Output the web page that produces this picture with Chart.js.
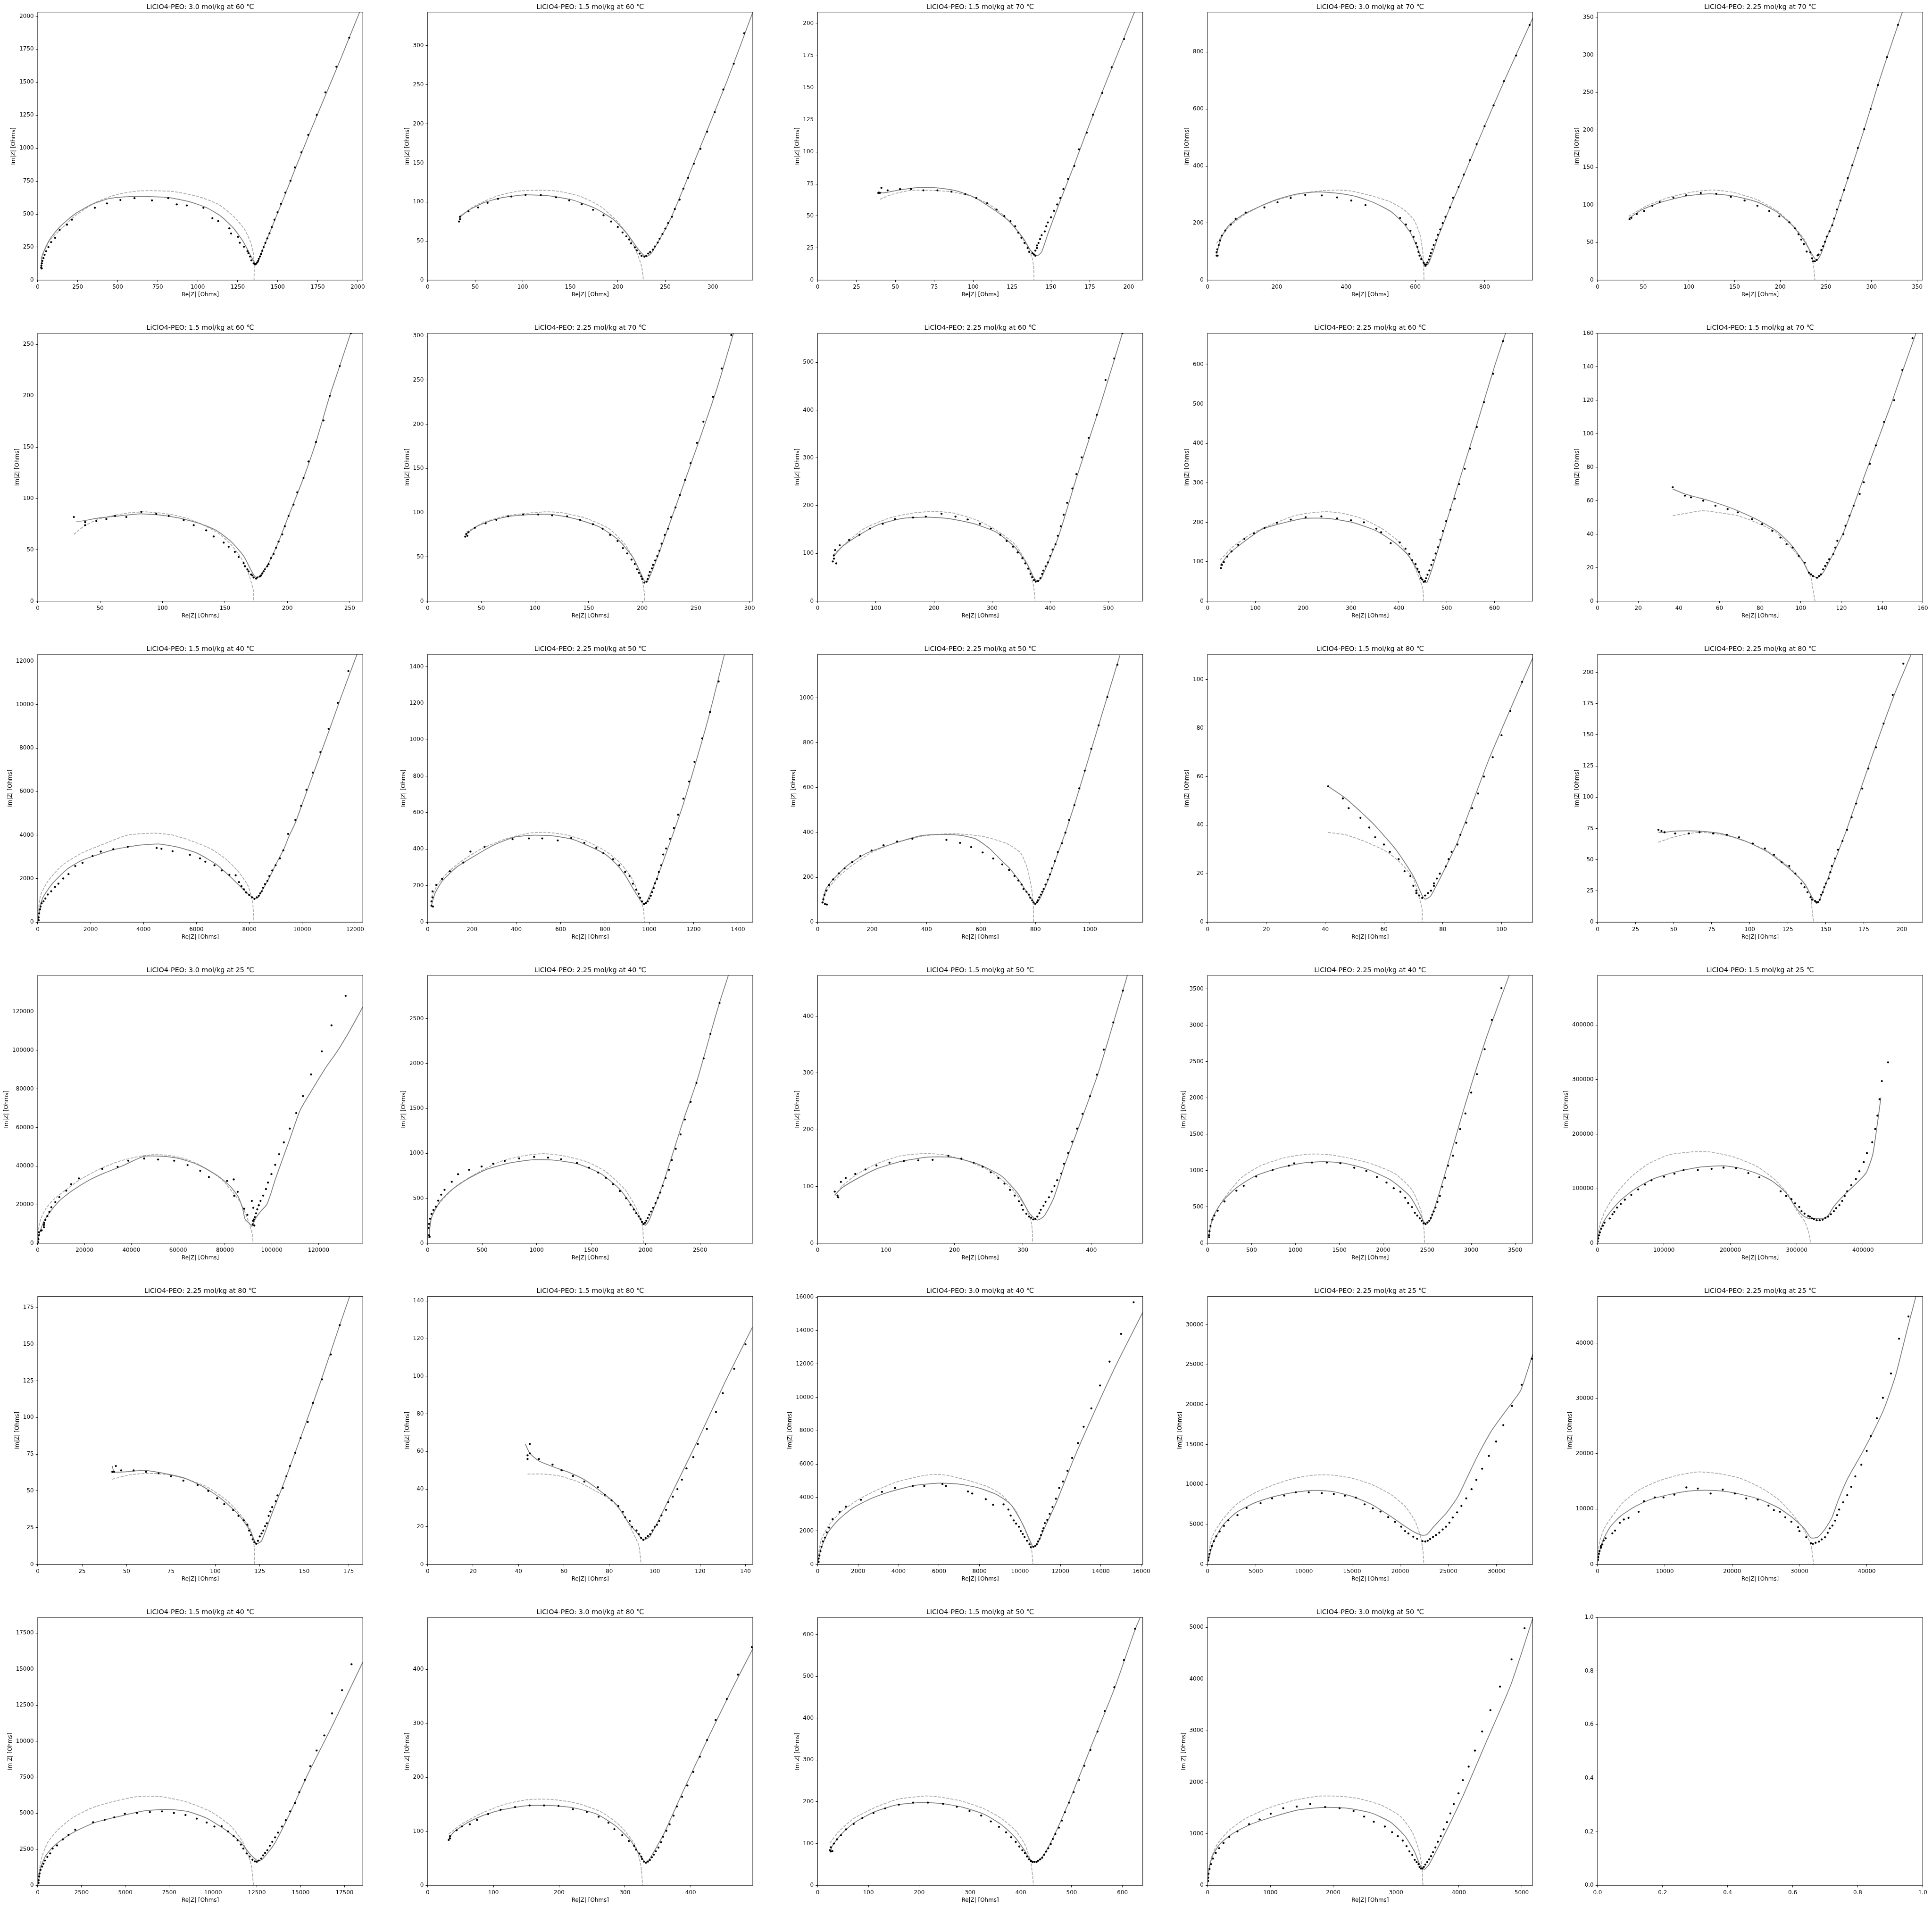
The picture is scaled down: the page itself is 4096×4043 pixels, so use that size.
<!DOCTYPE html>
<html><head><meta charset="utf-8">
<script src="https://cdn.jsdelivr.net/npm/chart.js@4.4.0/dist/chart.umd.min.js"></script>
<style>
html,body{margin:0;padding:0;background:#fff;width:4096px;height:4043px;overflow:hidden;position:relative}
canvas{position:absolute}
</style>
</head><body>
<script>
const TITLES = [
"LiClO4-PEO: 3.0 mol/kg at 60 \u2103","LiClO4-PEO: 1.5 mol/kg at 60 \u2103","LiClO4-PEO: 1.5 mol/kg at 70 \u2103","LiClO4-PEO: 3.0 mol/kg at 70 \u2103","LiClO4-PEO: 2.25 mol/kg at 70 \u2103",
"LiClO4-PEO: 1.5 mol/kg at 60 \u2103","LiClO4-PEO: 2.25 mol/kg at 70 \u2103","LiClO4-PEO: 2.25 mol/kg at 60 \u2103","LiClO4-PEO: 2.25 mol/kg at 60 \u2103","LiClO4-PEO: 1.5 mol/kg at 70 \u2103",
"LiClO4-PEO: 1.5 mol/kg at 40 \u2103","LiClO4-PEO: 2.25 mol/kg at 50 \u2103","LiClO4-PEO: 2.25 mol/kg at 50 \u2103","LiClO4-PEO: 1.5 mol/kg at 80 \u2103","LiClO4-PEO: 2.25 mol/kg at 80 \u2103",
"LiClO4-PEO: 3.0 mol/kg at 25 \u2103","LiClO4-PEO: 2.25 mol/kg at 40 \u2103","LiClO4-PEO: 1.5 mol/kg at 50 \u2103","LiClO4-PEO: 2.25 mol/kg at 40 \u2103","LiClO4-PEO: 1.5 mol/kg at 25 \u2103",
"LiClO4-PEO: 2.25 mol/kg at 80 \u2103","LiClO4-PEO: 1.5 mol/kg at 80 \u2103","LiClO4-PEO: 3.0 mol/kg at 40 \u2103","LiClO4-PEO: 2.25 mol/kg at 25 \u2103","LiClO4-PEO: 2.25 mol/kg at 25 \u2103",
"LiClO4-PEO: 1.5 mol/kg at 40 \u2103","LiClO4-PEO: 3.0 mol/kg at 80 \u2103","LiClO4-PEO: 1.5 mol/kg at 50 \u2103","LiClO4-PEO: 3.0 mol/kg at 50 \u2103",""];
const X_LABEL = "Re|Z| [Ohms]";
const Y_LABEL = "Im|Z| [Ohms]";
const X_MAX = [2032,342,209,939,356,260.5,303,559,680,160,12291,1467,1194,110.6,213.7,138900,2984,475,3700,489800,183,143.2,16070,33750,48312,18544,494.5,640,5176,1];
const Y_MAX = [2031,343,209,940,357,261,303,561,680,160,12313,1468,1195,110.4,214.5,138900,2983,472,3687,491000,182.6,142.5,16048,33550,48440,18585,496,641,5194,1];
const STEP = [250,50,25,200,50,50,50,100,100,20,2000,200,200,20,25,20000,500,100,500,100000,25,20,2000,5000,10000,2500,100,100,1000,0.2];

const P01_DATA=[[1947,1837],[1867,1617],[1798,1423],[1744,1252],[1691,1101],[1648,969],[1607,854],[1580,753],[1548,663],[1521,578],[1499,514],[1480,458],[1463,402],[1449,355],[1435,316],[1423,282],[1412,250],[1404,222],[1396,198],[1389,179],[1382,161],[1378,146],[1372,134],[1365,124],[1359,119],[1350,127],[1336,149],[1327,179],[1317,204],[1311,219],[1289,253],[1263,283],[1252,328],[1209,353],[1198,392],[1128,447],[1092,469],[1036,548],[932,566],[869,574],[816,621],[714,604],[605,621],[517,607],[433,581],[357,548],[214,458],[183,420],[137,380],[109,320],[84,288],[67,250],[53,219],[43,192],[36,167],[29,146],[26,127],[23,109],[22,94],[25,88]];
const P01_FIT=[[22,92],[28,186],[74,306],[137,402],[230,499],[338,574],[447,618],[571,633],[695,633],[819,626],[943,596],[1052,551],[1145,484],[1223,395],[1285,291],[1331,186],[1355,134],[1362,124],[1372,132],[1400,215],[1450,360],[1500,510],[1550,660],[1600,815],[1650,965],[1700,1115],[1800,1405],[1900,1695],[1947,1837],[2012,2031]];
const P01_CIRC=[[20,164],[74,298],[152,395],[230,484],[362,589],[493,648],[618,675],[711,678],[850,671],[1005,633],[1130,574],[1223,484],[1290,390],[1330,290],[1348,200],[1353,120],[1353,60],[1352,0]];

const P02_DATA=[[333,316],[322,277],[311,244],[302,215],[294,190],[287,168],[280,149],[274,131],[269,117],[265,103],[260,91],[257,81],[253,73],[250,66],[247,59],[244,53],[242,48],[239,43],[237,39],[234,36],[232,34],[230,31],[228,30],[225,31],[223,34],[220,38],[218,42],[214,47],[212,52],[209,56],[205,61],[200,68],[193,75],[185,83],[174,90],[162,97],[149,102],[135,106],[119,109],[103,109],[88,107],[74,104],[63,99],[53,93],[43,88],[34,81],[34,78],[33,75]];
const P02_FIT=[[33,80],[44,90],[59,99],[76,105],[101,109],[126,108],[151,103],[176,92],[196,77],[210,59],[220,42],[227,32],[230,30],[235,34],[255,77],[285,165],[315,255],[342,343]];
const P02_CIRC=[[34,82],[51,96],[74,108],[96,114],[118,115],[136,114],[161,107],[181,95],[198,77],[210,59],[219,38],[225,18],[227,0]];

const P03_DATA=[[197,188],[189,166],[183,146],[177,129],[173,115],[168,102],[165,89],[161,79],[158,71],[156,64],[154,59],[152,54],[150,49],[148,45],[147,42],[146,38],[144,35],[143,32],[142,29],[141,27],[141,25],[140,23],[139,20],[140,19],[138,21],[136,22],[135,25],[133,29],[131,33],[129,37],[127,42],[124,46],[120,50],[115,55],[109,60],[102,64],[95,67],[86,69],[77,70],[68,70],[60,71],[53,71],[45,70],[41,72],[40,68],[39,68]];
const P03_FIT=[[39,69],[42,68],[51,70],[63,72],[76,72],[88,70],[100,65],[112,56],[123,46],[132,33],[137,23],[141,19],[144,22],[148,36],[156,62],[165,90],[173,116],[183,147],[197,189],[206,216]];
const P03_CIRC=[[40,63],[48,67],[60,70],[73,70],[85,69],[97,66],[109,60],[120,50],[128,39],[134,28],[138,17],[139,8],[139,0]];

const P04_DATA=[[930,895],[891,788],[856,698],[826,613],[800,540],[777,477],[758,421],[740,370],[725,327],[709,289],[700,255],[687,222],[679,200],[672,178],[665,159],[660,140],[653,123],[649,108],[645,95],[642,84],[639,72],[635,62],[632,55],[629,50],[628,55],[624,61],[617,74],[612,86],[609,99],[606,116],[602,130],[595,152],[586,173],[573,195],[556,218],[456,263],[415,279],[374,290],[330,297],[282,299],[240,288],[202,273],[164,255],[110,237],[81,215],[67,195],[51,174],[41,156],[36,139],[32,123],[28,108],[26,98],[26,86],[29,86]];
const P04_FIT=[[26,91],[40,150],[60,190],[100,228],[150,258],[200,283],[250,300],[300,308],[330,309],[380,304],[430,293],[480,272],[530,240],[565,200],[585,168],[600,130],[612,95],[622,68],[630,53],[637,56],[650,95],[665,150],[680,195],[700,255],[725,325],[760,425],[800,540],[850,680],[900,815],[945,935]];
const P04_CIRC=[[26,129],[59,183],[101,225],[156,261],[211,285],[280,306],[335,314],[376,316],[417,312],[472,296],[527,275],[568,246],[596,211],[613,161],[621,105],[624,48],[625,0]];

const P05_DATA=[[329,340],[317,297],[307,260],[299,228],[292,201],[285,176],[279,153],[274,136],[270,120],[266,106],[262,94],[259,82],[257,73],[254,65],[251,58],[249,51],[247,45],[245,40],[242,34],[241,33],[240,27],[238,25],[236,25],[235,29],[233,37],[229,38],[226,48],[223,54],[220,61],[216,69],[210,77],[199,85],[188,92],[175,99],[161,106],[146,111],[130,115],[113,116],[97,113],[83,110],[68,104],[60,99],[51,92],[43,88],[37,83],[35,81]];
const P05_FIT=[[34,82],[49,94],[70,104],[97,112],[123,115],[149,112],[175,104],[196,91],[214,72],[227,51],[235,34],[240,26],[245,36],[251,57],[258,77],[266,106],[279,153],[292,201],[307,260],[317,297],[329,340],[334,358]];
const P05_CIRC=[[34,85],[54,99],[80,111],[107,118],[127,120],[148,117],[175,107],[198,91],[216,70],[228,51],[235,29],[237,13],[238,0]];

const P06_DATA=[[251,261],[242,229],[234,200],[229,176],[223,155],[217,136],[213,120],[208,106],[205,94],[201,83],[198,73],[196,65],[193,58],[191,52],[189,46],[187,42],[185,36],[184,34],[182,31],[181,29],[180,27],[179,25],[178,24],[176,23],[175,22],[173,23],[172,25],[171,26],[169,29],[168,31],[166,34],[165,37],[161,43],[158,48],[153,53],[149,57],[141,63],[135,69],[125,74],[117,79],[105,83],[95,85],[83,87],[71,82],[62,83],[55,80],[47,78],[38,77],[38,74],[29,82]];
const P06_FIT=[[31,78],[35,78],[49,81],[65,83],[81,85],[97,84],[113,81],[129,76],[143,69],[155,58],[165,44],[171,30],[174,24],[176,23],[179,26],[185,37],[193,58],[201,83],[213,120],[223,155],[234,200],[242,229],[251,262],[254,272]];
const P06_CIRC=[[29,65],[37,73],[49,80],[63,84],[73,86],[85,87],[97,86],[109,84],[121,80],[133,74],[145,66],[155,55],[163,42],[168,30],[171,19],[173,9],[173,0]];

const P07_DATA=[[283,301],[274,263],[266,231],[257,203],[251,179],[245,156],[240,137],[235,120],[231,106],[227,95],[224,82],[221,75],[218,65],[216,57],[214,51],[212,46],[210,41],[209,37],[207,33],[206,29],[205,25],[204,22],[202,21],[200,25],[199,28],[197,32],[195,36],[193,42],[190,47],[186,54],[182,60],[177,68],[170,75],[163,82],[154,87],[142,92],[130,96],[116,97],[103,98],[89,98],[75,96],[64,92],[54,88],[44,83],[38,78],[36,76],[37,74],[35,73]];
const P07_FIT=[[35,75],[45,84],[59,91],[76,96],[98,98],[116,98],[138,93],[160,84],[178,69],[191,50],[197,36],[202,23],[205,23],[213,46],[230,103],[252,178],[270,242],[285,303]];
const P07_CIRC=[[36,78],[54,90],[76,97],[98,100],[111,101],[125,100],[147,94],[169,82],[184,64],[195,41],[200,23],[202,9],[202,0]];

const P08_DATA=[[524,561],[510,508],[495,463],[480,390],[466,342],[454,301],[445,266],[438,236],[429,206],[423,181],[418,157],[413,137],[409,119],[404,108],[400,95],[396,81],[392,73],[388,64],[386,57],[383,48],[379,42],[375,41],[372,44],[369,50],[366,57],[362,68],[357,79],[352,90],[344,102],[336,114],[325,126],[314,139],[298,152],[279,162],[258,171],[237,177],[213,183],[186,177],[164,175],[133,172],[112,162],[90,152],[72,139],[54,128],[38,117],[30,107],[28,96],[28,89],[26,83],[32,79]];
const P08_FIT=[[27,93],[43,115],[72,139],[104,160],[145,173],[186,176],[225,173],[266,163],[308,144],[340,112],[361,76],[371,51],[378,41],[385,49],[414,135],[446,262],[487,414],[524,561],[535,600]];
const P08_CIRC=[[27,97],[47,120],[80,152],[121,173],[161,184],[202,188],[235,184],[275,169],[308,148],[340,118],[361,76],[371,34],[374,0]];

const P09_DATA=[[618,660],[597,577],[578,505],[563,442],[549,387],[538,336],[526,297],[517,260],[508,232],[499,203],[492,178],[487,156],[482,137],[477,121],[472,104],[468,92],[464,78],[460,67],[457,58],[455,51],[452,49],[449,55],[446,59],[442,74],[439,82],[435,94],[428,104],[422,120],[414,133],[402,149],[383,147],[363,175],[353,184],[327,200],[300,205],[271,210],[238,215],[205,213],[174,207],[145,199],[119,186],[97,172],[77,158],[64,143],[50,126],[41,113],[34,99],[30,92],[28,84]];
const P09_FIT=[[26,90],[43,118],[73,148],[113,182],[153,197],[202,210],[252,210],[302,200],[352,179],[392,148],[422,113],[442,72],[452,49],[459,48],[472,92],[511,246],[561,440],[601,599],[626,690]];
const P09_CIRC=[[26,104],[53,138],[93,172],[133,194],[182,217],[222,225],[252,227],[282,223],[322,210],[362,186],[397,154],[427,102],[442,61],[450,31],[452,0]];

const P10_DATA=[[155,157],[150,138],[146,120],[141,107],[137,93],[134,82],[131,71],[129,64],[126,57],[124,51],[122,45],[121,40],[118,36],[117,32],[116,28],[114,25],[113,23],[112,21],[111,19],[110,16],[109,15],[108,14],[106,15],[105,16],[104,17],[102,23],[99,27],[96,32],[93,34],[90,38],[86,42],[81,46],[76,49],[69,53],[64,55],[58,57],[52,60],[46,62],[43,63],[37,68]];
const P10_FIT=[[37,67],[43,64],[55,60],[67,55],[78,49],[88,42],[95,34],[101,24],[104,17],[108,14],[111,17],[121,41],[132,77],[144,116],[150,137],[157,161],[159,168]];
const P10_CIRC=[[37,51],[46,53],[52,54],[59,53],[69,51],[78,47],[88,41],[96,31],[102,22],[105,14],[106,7],[107,0]];

const P11_DATA=[[11745,11539],[11344,10083],[10998,8885],[10688,7816],[10397,6876],[10160,6083],[9960,5346],[9741,4700],[9468,4055],[9286,3300],[9159,2931],[8995,2618],[8868,2378],[8758,2120],[8685,1899],[8594,1751],[8521,1585],[8467,1419],[8412,1327],[8358,1217],[8285,1143],[8194,1069],[8103,1143],[7994,1253],[7884,1364],[7793,1512],[7702,1659],[7611,1843],[7484,2157],[7247,2175],[6956,2378],[6683,2618],[6337,2783],[6136,2931],[5754,3097],[5098,3263],[4680,3373],[4497,3410],[3405,3465],[2859,3355],[2385,3244],[2076,3041],[1694,2728],[1420,2581],[1165,2212],[965,2009],[783,1770],[656,1622],[510,1419],[382,1272],[291,1088],[219,959],[146,866],[109,719],[91,590],[55,406],[36,221],[36,92]];
const P11_FIT=[[18,37],[73,590],[200,1143],[565,1788],[1110,2433],[1657,2839],[2203,3078],[2932,3355],[3842,3539],[4570,3595],[5299,3447],[6027,3171],[6756,2654],[7302,2065],[7848,1419],[8050,1200],[8212,1088],[8330,1130],[8450,1380],[8600,1700],[8800,2150],[9000,2650],[9300,3350],[9500,3950],[9751,4600],[9960,5300],[10397,6750],[11000,8750],[11500,10450],[12073,12313]];
const P11_CIRC=[[18,498],[109,1235],[382,1880],[929,2617],[1657,3171],[2385,3539],[3387,4000],[4388,4092],[5116,4000],[5845,3723],[6573,3355],[7120,2894],[7575,2341],[7939,1696],[8121,959],[8176,0]];

const P12_DATA=[[1313,1319],[1274,1152],[1239,1007],[1204,879],[1180,771],[1154,677],[1130,589],[1111,516],[1093,457],[1076,404],[1063,371],[1054,312],[1043,275],[1035,237],[1026,213],[1020,187],[1013,165],[1007,145],[1000,130],[993,114],[985,105],[976,99],[967,114],[959,134],[952,156],[941,178],[926,211],[911,253],[891,275],[865,312],[837,345],[793,378],[761,407],[707,435],[648,462],[587,448],[517,459],[457,459],[383,455],[257,413],[193,387],[161,327],[100,279],[65,237],[39,204],[22,169],[22,136],[17,114],[17,90],[24,86]];
const P12_FIT=[[17,92],[33,158],[65,224],[130,301],[217,367],[304,426],[391,466],[478,477],[565,473],[652,455],[739,411],[804,370],[850,320],[890,260],[924,190],[957,125],[974,101],[989,114],[1043,268],[1152,642],[1261,1092],[1339,1466]];
const P12_CIRC=[[17,136],[43,202],[87,268],[152,334],[239,400],[348,455],[457,488],[543,492],[630,477],[717,444],[804,389],[870,323],[924,235],[957,136],[974,70],[978,0]];

const P13_DATA=[[1101,1148],[1064,1004],[1032,878],[1005,773],[981,676],[961,597],[943,522],[924,456],[910,399],[898,352],[882,313],[871,272],[860,240],[853,213],[845,190],[837,168],[830,148],[825,136],[820,123],[814,111],[809,98],[806,89],[799,82],[793,88],[788,97],[781,109],[776,123],[767,136],[756,148],[749,168],[737,186],[723,206],[703,233],[678,258],[645,284],[606,311],[564,335],[523,354],[473,367],[348,372],[292,360],[242,343],[198,320],[157,295],[127,268],[99,240],[78,218],[57,191],[42,166],[32,141],[25,122],[21,102],[18,88],[27,81],[34,79]];
const P13_FIT=[[18,84],[30,147],[57,191],[110,254],[180,308],[269,347],[376,385],[450,392],[520,388],[580,372],[630,330],[678,272],[703,243],[723,213],[745,178],[765,140],[785,105],[799,82],[810,92],[830,140],[855,215],[880,300],[910,400],[950,550],[1000,750],[1050,950],[1110,1190]];
const P13_CIRC=[[18,102],[39,150],[74,200],[127,254],[198,311],[286,354],[392,385],[498,395],[604,383],[693,352],[746,308],[772,233],[786,147],[792,75],[793,0]];

const P14_DATA=[[107,99],[103,87],[100,77],[97,68],[94,60],[92,53],[90,47],[88,41],[86,36],[85,32],[83,29],[82,26],[81,23],[79,20],[78,18],[77,16],[77,15],[76,13],[75,12],[74,11],[73,10],[72,11],[71,12],[71,13],[70,15],[69,19],[67,21],[65,26],[62,29],[60,32],[57,35],[55,39],[52,43],[48,47],[46,51],[41,56]];
const P14_FIT=[[41,56],[47,51],[56,41],[64,30],[70,19],[73,11],[74,9.5],[76,11],[85,33],[96,68],[111,110]];
const P14_CIRC=[[41,37],[47,36],[54,33],[61,29],[66,24],[70,18],[72,10],[73,5],[73,0]];

const P15_DATA=[[201,207],[194,182],[188,159],[183,140],[178,123],[174,107],[170,95],[167,84],[164,74],[161,65],[158,58],[156,51],[154,45],[153,40],[152,35],[150,31],[149,28],[148,24],[147,22],[146,18],[145,16],[144,16],[143,17],[141,18],[140,20],[138,24],[136,28],[134,31],[130,39],[126,45],[121,48],[116,54],[110,59],[102,63],[93,68],[85,70],[76,71],[67,72],[60,71],[51,71],[44,72],[42,73],[40,74]];
const P15_FIT=[[40,72],[44,72],[51,73],[66,73],[81,71],[97,65],[112,56],[125,44],[136,31],[141,20],[144,15],[146,18],[152,37],[164,75],[179,128],[195,182],[206,214]];
const P15_CIRC=[[40,64],[47,67],[56,70],[67,72],[77,71],[89,68],[101,63],[113,56],[125,45],[134,34],[140,22],[141,10],[142,0]];

const P16_DATA=[[131560,128270],[125520,112950],[121380,99470],[116820,87520],[113330,76290],[110460,67500],[107710,59440],[105160,52290],[103150,46160],[101450,40650],[99860,35850],[98380,31450],[97530,28080],[96360,24710],[95200,21960],[94460,19710],[93820,17570],[93290,15520],[92760,13580],[92340,12360],[92020,11640],[91810,9800],[92550,9190],[92130,18380],[91490,21960],[89580,14710],[88200,17870],[85450,26650],[83960,24610],[83750,33090],[80890,32270],[73150,34310],[69440,37580],[64030,40540],[58310,42790],[51420,43400],[45480,43910],[38700,42790],[34140,39620],[27570,38600],[17600,33600],[14310,30640],[12190,27270],[9220,23900],[7530,21340],[5830,18690],[4980,16240],[4130,14090],[3290,12150],[2760,10520],[2650,9500],[2650,8270],[1700,6740],[1380,6540],[530,5720],[530,4190],[320,2140],[210,610]];
const P16_FIT=[[100,200],[640,4700],[2440,10830],[5090,15930],[9330,22060],[14630,27170],[22050,32780],[28410,36350],[35830,39930],[45370,45040],[53850,45040],[60210,44020],[67630,41160],[72930,37890],[78240,33800],[82480,29210],[85660,24100],[87570,17970],[88630,12360],[90430,10310],[91490,8780],[92020,9800],[93080,12870],[95200,16440],[97850,20020],[99440,25120],[101560,33290],[104740,44020],[107920,54740],[112160,69040],[117460,80000],[122760,90500],[128060,99670],[133360,110300],[138870,122450]];
const P16_CIRC=[[100,6740],[1380,12870],[3500,17970],[6680,22570],[11450,27170],[17810,32780],[26290,38400],[34770,42480],[43250,45040],[49610,45960],[55970,45550],[62330,44020],[68690,40950],[75050,36350],[79290,32270],[83530,26140],[86710,21040],[88300,16950],[89900,11850],[91270,6740],[91810,3680],[92020,0]];

const P17_DATA=[[2679,2674],[2595,2330],[2533,2057],[2467,1784],[2414,1574],[2361,1377],[2321,1212],[2277,1051],[2241,926],[2215,818],[2184,725],[2157,640],[2135,564],[2113,505],[2091,447],[2069,394],[2051,353],[2034,318],[2020,282],[2007,250],[1994,228],[1981,215],[1967,237],[1954,268],[1936,300],[1914,335],[1892,376],[1861,429],[1821,501],[1764,581],[1702,657],[1636,729],[1565,787],[1481,841],[1370,894],[1225,935],[1105,953],[977,962],[840,944],[707,917],[601,886],[495,854],[380,818],[279,769],[221,684],[155,595],[124,541],[97,474],[75,407],[53,371],[35,326],[22,273],[13,215],[9,170],[13,89],[18,72]];
const P17_FIT=[[9,58],[35,282],[111,461],[221,595],[354,707],[531,818],[752,894],[973,930],[1149,926],[1370,886],[1591,774],[1768,595],[1901,371],[1967,237],[1998,201],[2034,259],[2166,684],[2343,1355],[2467,1790],[2595,2330],[2679,2680],[2760,2983]];
const P17_CIRC=[[9,170],[44,326],[133,483],[265,640],[442,774],[663,908],[884,975],[1061,997],[1238,975],[1459,908],[1636,796],[1813,595],[1923,371],[1972,192],[1981,0]];

const P18_DATA=[[446,445],[432,389],[418,341],[408,297],[398,259],[387,228],[379,202],[372,179],[366,159],[360,140],[356,123],[350,111],[346,101],[342,91],[338,81],[333,73],[330,66],[326,59],[324,53],[321,47],[318,43],[315,42],[312,45],[309,47],[305,52],[300,59],[298,67],[294,74],[288,84],[281,94],[273,105],[264,115],[253,125],[241,135],[228,142],[210,149],[191,154],[168,147],[147,146],[126,145],[105,142],[86,137],[70,130],[55,122],[41,115],[34,108],[25,91],[29,84],[30,81]];
const P18_FIT=[[25,85],[36,98],[58,114],[86,131],[121,144],[163,152],[198,151],[233,140],[268,119],[293,87],[310,52],[321,41],[331,48],[345,80],[360,135],[380,200],[410,300],[446,445],[470,545]];
const P18_CIRC=[[25,84],[36,101],[58,122],[86,140],[121,154],[156,158],[184,156],[219,145],[254,126],[282,98],[303,66],[312,38],[314,16],[314,0]];

const P19_DATA=[[3344,3510],[3235,3074],[3153,2670],[3065,2327],[3000,2073],[2934,1786],[2874,1570],[2830,1382],[2792,1205],[2737,1067],[2704,901],[2671,779],[2644,652],[2616,569],[2594,492],[2573,437],[2556,392],[2540,348],[2523,310],[2501,287],[2480,265],[2458,276],[2436,310],[2414,343],[2386,381],[2359,420],[2326,498],[2282,553],[2249,625],[2194,708],[2118,757],[2036,835],[1927,912],[1806,995],[1669,1039],[1511,1100],[1357,1111],[1188,1111],[985,1100],[925,1067],[739,1006],[553,918],[411,790],[328,724],[192,575],[115,448],[77,381],[55,326],[33,238],[22,166],[16,111],[16,83]];
const P19_FIT=[[11,83],[55,348],[164,569],[328,763],[547,929],[821,1039],[1095,1106],[1314,1122],[1533,1106],[1806,1023],[2080,873],[2299,652],[2408,431],[2463,293],[2496,265],[2545,348],[2682,873],[2901,1786],[3175,2836],[3432,3687],[3450,3760]];
const P19_CIRC=[[11,155],[82,404],[192,625],[383,901],[602,1067],[876,1177],[1149,1227],[1368,1222],[1587,1177],[1861,1095],[2135,956],[2326,735],[2425,459],[2463,182],[2468,0]];

const P20_DATA=[[437600,331500],[428300,297100],[424800,263900],[421700,233900],[418300,209500],[413800,185100],[405800,165200],[401000,148600],[394400,131900],[389200,117500],[382300,106400],[376100,95300],[372300,86500],[368500,77600],[364300,69800],[359500,64300],[356000,58800],[351500,53200],[347400,48800],[343200,46600],[339100,43200],[334600,42100],[330100,42100],[326000,44300],[322900,45500],[319800,48800],[317300,49900],[311800,54300],[307300,58800],[303800,66500],[297600,73200],[292100,80900],[284100,86500],[275800,95300],[243700,120800],[227100,128600],[208800,137500],[189800,138600],[171800,136400],[151100,134100],[129600,134100],[115800,127500],[100200,122000],[81200,115300],[71600,107500],[61200,98700],[50800,88700],[41100,79800],[34900,72100],[29400,65400],[25200,57600],[22500,53200],[18300,45400],[10400,37700],[8000,32100],[5500,26600],[3500,20000],[2100,14400],[1000,8900],[300,3300]];
const P20_FIT=[[0,2200],[3500,23300],[10400,42100],[20700,59900],[34600,78700],[55300,98700],[83000,117500],[117500,130800],[155500,139700],[190100,141900],[214300,137500],[238500,128600],[262700,114200],[283500,93100],[299000,65400],[309400,51000],[318000,45500],[328400,45500],[342200,45500],[347400,51000],[356000,67600],[369900,86500],[387200,106400],[404400,128600],[414800,164100],[426900,267200]];
const P20_CIRC=[[0,12200],[3500,34400],[10400,56500],[20700,78700],[34600,100900],[51900,123100],[76000,145200],[107200,161900],[141700,167400],[169400,167400],[203900,158500],[238500,141900],[266200,117500],[286900,89800],[300000,60000],[312000,40000],[318000,20000],[321000,0]];

const P21_DATA=[[170,163],[165,143],[160,126],[155,110],[152,97],[148,86],[145,76],[142,67],[140,60],[138,52],[135,47],[134,43],[132,39],[131,36],[130,33],[129,28],[128,26],[127,23],[126,21],[125,19],[124,16],[123,14],[122,15],[121,17],[120,20],[119,23],[118,27],[116,30],[113,33],[110,37],[105,41],[101,45],[96,50],[90,54],[82,57],[75,60],[68,62],[61,63],[54,64],[47,64],[44,67],[42,63],[43,63]];
const P21_FIT=[[42,67],[43,63],[49,63],[60,64],[71,62],[82,59],[93,53],[103,45],[113,34],[120,22],[123,14],[126,16],[132,35],[140,60],[150,93],[160,127],[170,163],[180,198]];
const P21_CIRC=[[42,58],[52,61],[63,62],[74,61],[84,58],[95,53],[106,44],[114,34],[120,23],[122,11],[122,0]];

const P22_DATA=[[140,117],[135,104],[130,91],[127,81],[123,72],[119,64],[117,57],[114,51],[112,45],[110,40],[108,36],[106,33],[105,29],[103,26],[102,23],[101,21],[100,20],[99,18],[98,16],[97,15],[96,14],[95,13],[94,14],[93,16],[92,18],[90,20],[89,23],[87,25],[86,28],[84,31],[81,34],[78,37],[75,41],[69,44],[64,47],[59,50],[55,53],[49,56],[45,59],[45,64],[44,56],[44,58]];
const P22_FIT=[[43,64],[45,59],[49,55],[55,52],[62,49],[69,45],[76,39],[83,32],[88,23],[92,17],[95,13],[98,15],[106,34],[119,66],[131,97],[143,126]];
const P22_CIRC=[[44,48],[51,48],[58,47],[66,44],[74,39],[81,34],[86,27],[90,18],[93,10],[94,0]];

const P23_DATA=[[15620,15690],[15000,13800],[14430,12140],[13960,10710],[13530,9340],[13150,8240],[12870,7260],[12580,6370],[12350,5600],[12130,4960],[11940,4570],[11780,3930],[11610,3430],[11470,3020],[11350,2660],[11230,2470],[11160,2160],[11110,1990],[11040,1750],[10970,1530],[10900,1370],[10830,1200],[10760,1100],[10660,1050],[10540,1030],[10470,1200],[10350,1410],[10230,1630],[10140,1820],[10040,1990],[9950,2250],[9810,2440],[9690,2630],[9540,2920],[9430,3280],[9190,3590],[8670,3570],[8310,3900],[7640,4240],[7430,4360],[6340,4690],[6170,4810],[5270,4690],[4700,4690],[3820,4570],[3180,4340],[2140,3860],[1400,3450],[1090,3140],[740,2710],[570,2200],[450,1920],[360,1600],[260,1370],[190,1050],[140,790],[90,530],[50,340],[50,140]];
const P23_FIT=[[20,120],[170,960],[520,1920],[1000,2630],[1710,3350],[2660,3950],[3610,4360],[4800,4720],[5980,4860],[6930,4810],[7880,4600],[8830,4190],[9540,3590],[10140,2400],[10490,1440],[10660,1030],[10850,1200],[11210,2160],[11800,3710],[12630,6230],[13580,8860],[14770,11980],[16070,15090]];
const P23_CIRC=[[20,480],[170,1440],[520,2280],[1120,3110],[1950,3830],[2900,4430],[3850,4910],[5030,5270],[5750,5390],[6460,5320],[7410,5030],[8360,4670],[9070,4190],[9780,3230],[10260,2040],[10560,1010],[10640,0]];

const P24_DATA=[[33650,25740],[32600,22480],[31600,19830],[30700,17430],[29950,15370],[29200,13570],[28500,11970],[27900,10570],[27400,9410],[26850,8260],[26350,7310],[25900,6510],[25450,5860],[25100,5210],[24750,4710],[24400,4360],[24050,3960],[23700,3660],[23400,3410],[23100,3160],[22850,2950],[22600,2850],[22300,2900],[21750,3200],[21350,3460],[20850,3860],[20500,4160],[20100,4710],[19450,5310],[18750,5910],[17950,6610],[17150,7010],[16300,7510],[15400,8350],[14250,8600],[13100,8800],[11850,8910],[10500,9010],[9150,9010],[7950,8610],[6700,8260],[5500,7660],[4050,7060],[3100,6160],[2150,5510],[1700,4810],[1250,4110],[900,3500],[650,2900],[450,2300],[300,1800],[200,1300],[100,850],[50,500]];
const P24_FIT=[[50,250],[500,2500],[1500,4760],[3000,6510],[5000,7760],[7000,8510],[9000,9010],[11000,9260],[13000,9110],[15000,8510],[17000,7510],[19000,6010],[20500,4760],[21500,4010],[22250,3660],[22750,3710],[23500,4760],[24850,6510],[26000,8510],[27000,11020],[28000,13520],[29500,16770],[31000,19280],[32500,21780],[33750,26300]];
const P24_CIRC=[[50,1000],[500,3500],[1500,5510],[3000,7510],[5000,9010],[7000,10020],[9000,10770],[11000,11170],[13000,11170],[15000,10770],[17000,10020],[19000,8760],[20500,7260],[21500,5510],[22100,3500],[22350,1750],[22450,0]];

const P25_DATA=[[46200,44800],[44800,40800],[43600,34500],[42400,30100],[41500,26400],[40600,23200],[40000,20500],[39200,18000],[38300,15900],[37700,14000],[37100,12500],[36500,11200],[35900,9900],[35600,8900],[35300,7900],[34900,7000],[34500,6500],[34200,5700],[33800,4900],[33300,4500],[32900,4100],[32400,3900],[32000,3700],[31700,3800],[31000,4900],[30000,6000],[29800,6700],[28800,7700],[27900,8500],[27100,9500],[26200,9800],[25400,10600],[23800,11700],[22100,11900],[20400,12800],[18600,13500],[16800,12800],[14900,13700],[13200,13900],[11400,12600],[9800,12100],[8500,12100],[6900,11400],[6100,9500],[4600,8400],[3900,8100],[3300,7500],[2600,6100],[2200,5600],[1200,4700],[900,4300],[700,3600],[500,3300],[500,3000],[300,2400],[200,1900],[100,1300],[70,800]];
const P25_FIT=[[0,300],[300,2400],[900,4600],[1900,6800],[3400,8700],[5500,10400],[7800,11700],[10600,12600],[13300,13200],[16000,13400],[18800,13200],[21500,12600],[24200,11700],[26900,10200],[29000,8400],[30700,6500],[31700,4800],[32700,4900],[33700,6200],[34800,8400],[35800,11700],[37200,15600],[39200,19900],[40900,23800],[42600,28200],[44300,34200],[46000,42400],[47300,48400]];
const P25_CIRC=[[0,1300],[300,4100],[1000,6500],[2000,8400],[3800,11200],[6100,13400],[8900,15000],[11900,16100],[15000,16700],[18000,16400],[21100,15600],[24200,13900],[26900,11700],[29000,9000],[30700,6200],[31700,3500],[32100,0]];

const P26_DATA=[[17900,15340],[17360,13540],[16790,11930],[16350,10400],[15910,9350],[15550,8270],[15250,7320],[14920,6460],[14670,5710],[14400,5130],[14150,4520],[13930,4080],[13710,3660],[13540,3330],[13380,3020],[13240,2750],[13100,2440],[12970,2250],[12860,2080],[12750,1860],[12610,1720],[12500,1640],[12390,1660],[12250,1780],[12090,2000],[11920,2220],[11730,2550],[11590,2830],[11400,3130],[11180,3410],[10850,3740],[10490,4110],[10080,4080],[9640,4360],[9070,4630],[8430,4880],[7770,5020],[7090,5130],[6400,5080],[5660,5020],[4970,4970],[4370,4720],[3820,4550],[3160,4380],[2140,3860],[1760,3500],[1430,3190],[1100,2770],[850,2550],[710,2220],[550,1970],[410,1720],[330,1500],[250,1300],[160,1080],[110,830],[80,610],[50,360],[50,170]];
const P26_FIT=[[30,80],[160,1190],[440,2020],[850,2640],[1400,3190],[2230,3800],[3320,4380],[4700,4800],[6040,5160],[7420,5270],[8540,5130],[9640,4660],[10740,3830],[11570,3000],[12120,2160],[12530,1720],[12800,1800],[13490,2860],[14310,4800],[15410,7710],[16790,11040],[18540,15480]];
const P26_CIRC=[[30,640],[250,2020],[580,3000],[1130,3830],[1950,4660],[3050,5350],[4150,5770],[5520,6130],[6350,6190],[7170,6130],[8540,5770],[9920,5080],[11020,4110],[11700,3000],[12170,1470],[12310,0]];

const P27_DATA=[[493,441],[472,390],[455,345],[438,306],[425,269],[414,238],[404,210],[395,185],[387,164],[379,146],[374,129],[368,113],[363,101],[358,90],[355,80],[351,70],[347,63],[344,57],[341,52],[338,47],[335,44],[332,42],[329,44],[326,49],[325,53],[322,59],[317,66],[314,73],[306,82],[296,93],[284,104],[275,116],[260,127],[242,136],[221,141],[199,147],[177,148],[155,148],[133,145],[111,140],[92,132],[75,121],[64,113],[52,109],[44,102],[34,91],[34,87],[32,84]];
const P27_FIT=[[32,87],[40,99],[59,115],[81,128],[110,139],[147,147],[183,148],[220,144],[257,132],[286,110],[308,84],[322,58],[331,43],[337,48],[359,95],[388,173],[425,269],[462,361],[495,439]];
const P27_CIRC=[[32,95],[51,113],[81,133],[117,150],[154,159],[190,159],[227,152],[264,136],[293,110],[315,76],[324,39],[327,0]];

const P28_DATA=[[625,614],[603,539],[584,474],[565,417],[551,368],[537,324],[525,286],[515,252],[504,223],[495,198],[487,175],[481,155],[475,138],[468,123],[463,111],[459,99],[454,89],[450,81],[446,73],[442,66],[438,62],[434,59],[431,56],[427,56],[423,56],[420,58],[416,62],[412,69],[408,77],[403,84],[397,93],[390,104],[381,115],[371,127],[357,140],[341,153],[322,167],[299,178],[274,188],[247,195],[217,198],[188,198],[160,193],[133,184],[110,173],[88,161],[71,147],[56,134],[46,120],[38,110],[32,100],[26,91],[24,84],[26,81],[29,82]];
const P28_FIT=[[26,84],[29,95],[46,122],[71,149],[110,175],[157,193],[204,198],[243,196],[285,187],[328,170],[362,145],[388,116],[407,84],[418,63],[426,56],[435,59],[448,78],[469,128],[499,212],[542,343],[585,473],[625,612],[635,641]];
const P28_CIRC=[[24,101],[41,128],[71,160],[114,187],[157,206],[187,211],[217,214],[243,211],[285,201],[328,183],[362,160],[392,128],[409,95],[420,53],[425,0]];

const P29_DATA=[[5046,4984],[4839,4380],[4655,3853],[4502,3395],[4371,2984],[4256,2612],[4156,2302],[4064,2039],[3995,1783],[3919,1574],[3865,1395],[3811,1225],[3758,1085],[3712,953],[3666,845],[3627,736],[3589,643],[3558,566],[3528,504],[3497,450],[3466,403],[3443,357],[3420,326],[3397,326],[3374,357],[3359,411],[3328,450],[3298,496],[3259,589],[3213,659],[3167,760],[3106,868],[3029,953],[2937,1031],[2822,1140],[2646,1233],[2492,1333],[2324,1442],[2101,1496],[1871,1519],[1633,1574],[1419,1527],[1204,1496],[1005,1388],[828,1279],[660,1186],[475,1047],[345,938],[253,822],[184,721],[130,628],[84,519],[54,411],[31,318],[15,225],[8,147],[8,85]];
const P29_FIT=[[0,62],[23,295],[77,566],[192,798],[383,992],[690,1186],[1074,1341],[1457,1465],[1840,1512],[2224,1496],[2607,1403],[2914,1225],[3144,953],[3298,643],[3390,372],[3451,310],[3528,411],[3758,953],[4064,1729],[4448,2814],[4831,3899],[5176,5171]];
const P29_CIRC=[[0,194],[46,488],[153,798],[345,1070],[613,1302],[997,1512],[1380,1651],[1764,1729],[2071,1729],[2377,1690],[2761,1558],[3067,1341],[3259,1031],[3374,643],[3413,333],[3428,0]];

const DATA_SETS=[P01_DATA,P02_DATA,P03_DATA,P04_DATA,P05_DATA,P06_DATA,P07_DATA,P08_DATA,P09_DATA,P10_DATA,P11_DATA,P12_DATA,P13_DATA,P14_DATA,P15_DATA,P16_DATA,P17_DATA,P18_DATA,P19_DATA,P20_DATA,P21_DATA,P22_DATA,P23_DATA,P24_DATA,P25_DATA,P26_DATA,P27_DATA,P28_DATA,P29_DATA,[]];
const FIT_SETS=[P01_FIT,P02_FIT,P03_FIT,P04_FIT,P05_FIT,P06_FIT,P07_FIT,P08_FIT,P09_FIT,P10_FIT,P11_FIT,P12_FIT,P13_FIT,P14_FIT,P15_FIT,P16_FIT,P17_FIT,P18_FIT,P19_FIT,P20_FIT,P21_FIT,P22_FIT,P23_FIT,P24_FIT,P25_FIT,P26_FIT,P27_FIT,P28_FIT,P29_FIT,[]];
const CIRC_SETS=[P01_CIRC,P02_CIRC,P03_CIRC,P04_CIRC,P05_CIRC,P06_CIRC,P07_CIRC,P08_CIRC,P09_CIRC,P10_CIRC,P11_CIRC,P12_CIRC,P13_CIRC,P14_CIRC,P15_CIRC,P16_CIRC,P17_CIRC,P18_CIRC,P19_CIRC,P20_CIRC,P21_CIRC,P22_CIRC,P23_CIRC,P24_CIRC,P25_CIRC,P26_CIRC,P27_CIRC,P28_CIRC,P29_CIRC,[]];

// ---------- rendering ----------
const S = 4096/4766;
const FONT = '"DejaVu Sans"';
const TICK_PX = 13.89*S, TITLE_PX = 16.67*S, LABEL_PX = 13.89*S;
const TICK_LEN = 4.86*S, TICK_PAD = 4.86*S;
Chart.defaults.font.family = FONT;

const mplPlugin = {
  id: 'mpl',
  afterDraw(chart, args, o) {
    const ctx = chart.ctx, a = chart.chartArea;
    ctx.save();
    ctx.strokeStyle = '#000'; ctx.lineWidth = 0.95;
    ctx.strokeRect(a.left, a.top, a.right - a.left, a.bottom - a.top);
    ctx.fillStyle = '#000';
    const cx = (a.left + a.right)/2, cy = (a.top + a.bottom)/2;
    if (o.title) {
      ctx.font = TITLE_PX + 'px ' + FONT;
      ctx.textAlign = 'center'; ctx.textBaseline = 'alphabetic';
      ctx.fillText(o.title, cx, a.top - 7.2);
    }
    if (o.xLabel) {
      ctx.font = LABEL_PX + 'px ' + FONT;
      ctx.textAlign = 'center'; ctx.textBaseline = 'middle';
      ctx.fillText(o.xLabel, cx, a.bottom + 31.5);
    }
    if (o.yLabel) {
      ctx.font = TICK_PX + 'px ' + FONT;
      let mw = 0;
      for (const t of chart.scales.y.ticks) { mw = Math.max(mw, ctx.measureText(String(t.label)).width); }
      const x = a.left - (TICK_LEN + TICK_PAD + mw + 4.77 + 0.6*LABEL_PX);
      ctx.font = LABEL_PX + 'px ' + FONT;
      ctx.translate(x, cy); ctx.rotate(-Math.PI/2);
      ctx.textAlign = 'center'; ctx.textBaseline = 'middle';
      ctx.fillText(o.yLabel, 0, 0);
    }
    ctx.restore();
  }
};

const toXY = arr => arr.map(p => ({x: p[0], y: p[1]}));

function tickValues(max, step) {
  const out = [];
  for (let k = 0; k * step <= max * (1 + 1e-9); k++) out.push(+(k * step).toFixed(6));
  return out;
}

function axis(max, step, isX, fixed) {
  const vals = tickValues(max, step);
  return {
    type: 'linear', position: isX ? 'bottom' : 'left', min: 0, max: max,
    ticks: {
      autoSkip: false, maxRotation: 0, minRotation: 0,
      color: '#000', padding: TICK_PAD, font: {family: FONT, size: TICK_PX},
      callback: v => step < 1 ? Number(v).toFixed(1) : String(Math.round(v))
    },
    grid: {display: true, drawOnChartArea: false, drawTicks: true, tickLength: TICK_LEN, color: '#000', tickColor: '#000', tickWidth: 0.95},
    border: {display: false},
    afterBuildTicks(s) { s.ticks = vals.map(v => ({value: v})); },
    afterFit(s) {
      if (isX) s.height = fixed; else s.width = fixed;
      s.paddingLeft = 0; s.paddingRight = 0; s.paddingTop = 0; s.paddingBottom = 0;
    }
  };
}

for (let i = 0; i < 30; i++) {
  const r = Math.floor(i/5), c = i % 5;
  const L = (93 + c*962)*S, T = (30 + r*792)*S, W = 802*S, H = 661*S;
  const cl = Math.floor(L) - 100, ct = Math.floor(T) - 40;
  const cw = 830, ch = 680;
  const yW = L - cl, padTop = T - ct, padRight = cw - yW - W, xH = ch - padTop - H;
  const cv = document.createElement('canvas');
  cv.width = cw; cv.height = ch;
  cv.style.left = cl + 'px'; cv.style.top = ct + 'px';
  cv.style.width = cw + 'px'; cv.style.height = ch + 'px';
  document.body.appendChild(cv);
  const empty = i === 29;
  new Chart(cv, {
    type: 'scatter',
    data: {datasets: [
      {data: toXY(DATA_SETS[i]), showLine: false, pointRadius: 2.15, pointHoverRadius: 2.15, pointBorderWidth: 0, backgroundColor: '#000', borderColor: '#000'},
      {data: toXY(FIT_SETS[i]), showLine: true, pointRadius: 0, pointHoverRadius: 0, borderColor: '#7f7f7f', borderWidth: 1.75, tension: 0.2, fill: false},
      {data: toXY(CIRC_SETS[i]), showLine: true, pointRadius: 0, pointHoverRadius: 0, borderColor: '#aaaaaa', borderWidth: 1.75, borderDash: [6.3, 2.7], tension: 0.2, fill: false}
    ]},
    options: {
      responsive: false, animation: false, events: [], devicePixelRatio: 1,
      layout: {padding: {left: 0, top: padTop, right: padRight, bottom: 0}},
      plugins: {
        legend: {display: false}, tooltip: {enabled: false}, title: {display: false},
        mpl: {title: TITLES[i], xLabel: empty ? '' : X_LABEL, yLabel: empty ? '' : Y_LABEL}
      },
      scales: {
        x: axis(X_MAX[i], STEP[i], true, xH),
        y: axis(Y_MAX[i], STEP[i], false, yW)
      }
    },
    plugins: [mplPlugin]
  });
}
</script>
</body></html>
